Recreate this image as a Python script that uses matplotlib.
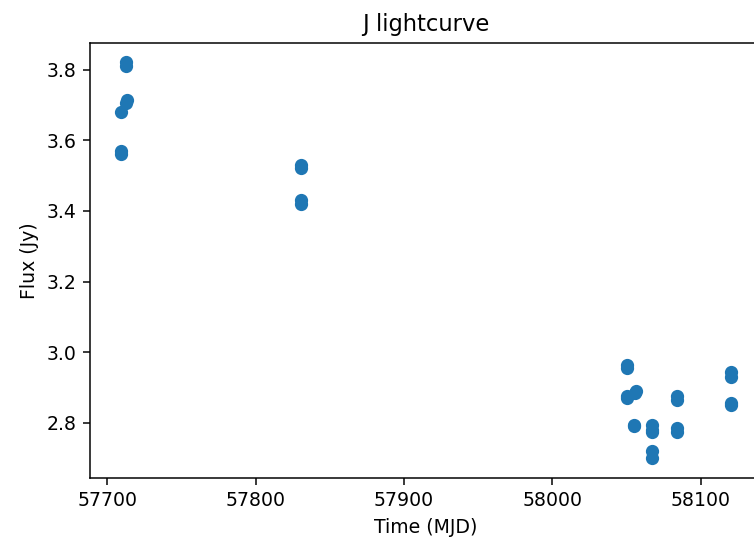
import matplotlib
matplotlib.use("Agg")
import matplotlib.pyplot as plt

# J band lightcurve
mjd = [57712.5, 57712.5, 57713.5, 57713.0, 57709.0, 57709.5, 57709.5,
       57830.5, 57830.5, 57830.5, 57830.5,
       58050.5, 58050.5, 58050.0, 58050.5, 58055.5, 58056.0, 58055.0, 58055.0,
       58067.0, 58067.0, 58067.0, 58067.0, 58067.0,
       58084.0, 58084.0, 58084.0, 58084.0,
       58120.0, 58120.0, 58120.0, 58120.0]
flux = [3.82, 3.81, 3.715, 3.705, 3.68, 3.57, 3.56,
        3.53, 3.52, 3.43, 3.42,
        2.965, 2.955, 2.87, 2.875, 2.885, 2.89, 2.795, 2.79,
        2.795, 2.78, 2.775, 2.72, 2.70,
        2.875, 2.865, 2.785, 2.775,
        2.945, 2.93, 2.855, 2.85]

dpi = 136
fig = plt.figure(figsize=(754 / dpi, 542 / dpi), dpi=dpi)
ax = fig.add_axes([90 / 754, 1 - 478 / 542, 671 / 754, 435.3 / 542])

ax.scatter(mjd, flux)
ax.set_title("J lightcurve")
ax.set_xlabel("Time (MJD)")
ax.set_ylabel("Flux (Jy)")

fig.savefig("out.png", dpi=dpi)
